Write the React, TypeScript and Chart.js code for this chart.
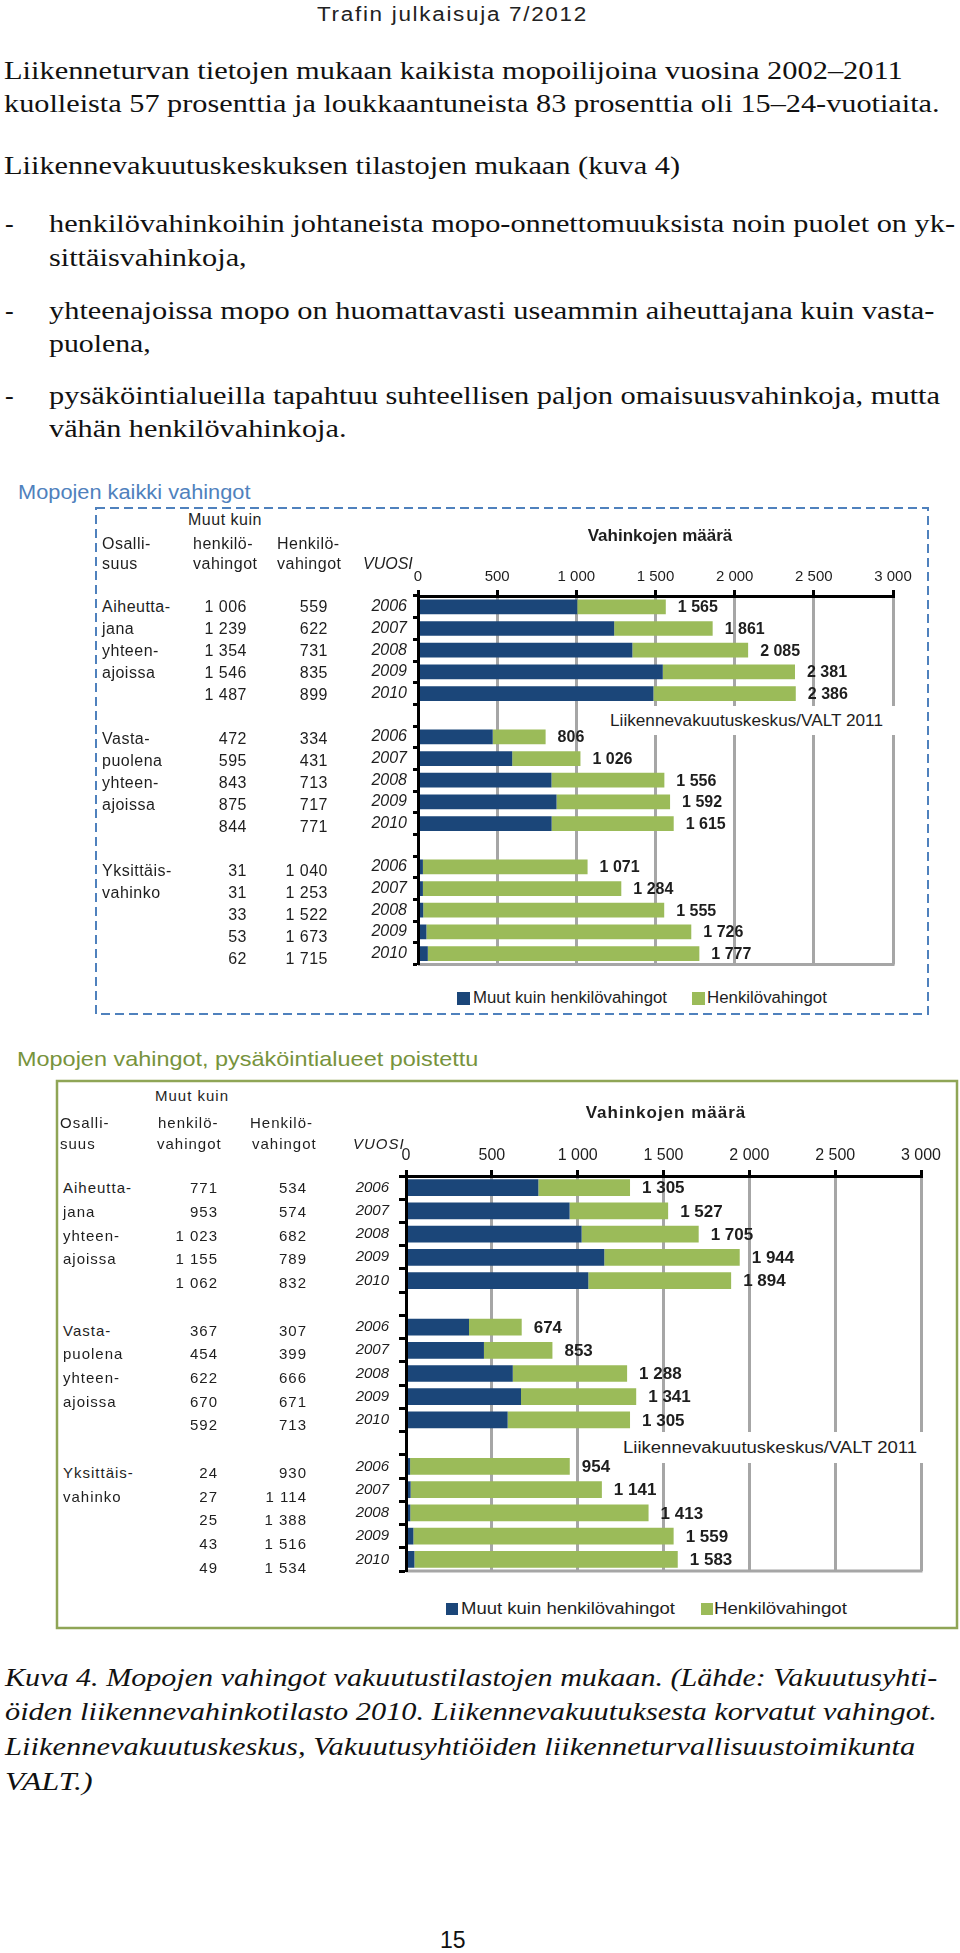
import React, { useEffect, useLayoutEffect, useRef } from 'react';
import { Chart, registerables } from 'chart.js';
Chart.register(...registerables);

// ---------- data ----------
const YEARS = ['2006', '2007', '2008', '2009', '2010'];
const GROUP_LABELS = [
  ['Aiheutta-', 'jana', 'yhteen-', 'ajoissa'],
  ['Vasta-', 'puolena', 'yhteen-', 'ajoissa'],
  ['Yksittäis-', 'vahinko'],
];
const SERIES_NAMES = ['Muut kuin henkilövahingot', 'Henkilövahingot'];
const X_MAX = 3000;
const X_STEP = 500;

// Mopojen kaikki vahingot
const all_aiheuttaja_muut = [1006, 1239, 1354, 1546, 1487];
const all_aiheuttaja_henk = [559, 622, 731, 835, 899];
const all_vasta_muut = [472, 595, 843, 875, 844];
const all_vasta_henk = [334, 431, 713, 717, 771];
const all_yks_muut = [31, 31, 33, 53, 62];
const all_yks_henk = [1040, 1253, 1522, 1673, 1715];

// Mopojen vahingot, pysäköintialueet poistettu
const np_aiheuttaja_muut = [771, 953, 1023, 1155, 1062];
const np_aiheuttaja_henk = [534, 574, 682, 789, 832];
const np_vasta_muut = [367, 454, 622, 670, 592];
const np_vasta_henk = [307, 399, 666, 671, 713];
const np_yks_muut = [24, 27, 25, 43, 49];
const np_yks_henk = [930, 1114, 1388, 1516, 1534];

// ---------- style ----------
const SANS = '"Liberation Sans", Arial, Helvetica, sans-serif';
const SERIF = '"Liberation Serif", "Times New Roman", Times, serif';
const BLUE = '#1b4679';
const GREEN = '#9bbb59';
const TXT = '#1e1e1e';

const fmt = (n: number) =>
  n >= 1000 ? `${Math.floor(n / 1000)} ${String(n % 1000).padStart(3, '0')}` : String(n);

const slots = (a: number[], b: number[], c: number[]) => [...a, null, ...b, null, ...c];
const Y_LABELS = [...YEARS, '', ...YEARS, '', ...YEARS];

// ---------- text helper ----------
function T(props: any) {
  const {
    x, cy, by, text, size, family = SANS, weight = 400, italic = false,
    color = TXT, align = 'left', fit, ls = 0,
  } = props;
  const ref = useRef<HTMLDivElement>(null);
  useLayoutEffect(() => {
    if (!fit || !ref.current) return;
    const w = ref.current.offsetWidth;
    if (w > 0) ref.current.style.transform = `scaleX(${fit / w})`;
  }, []);
  const asc = family === SERIF ? 0.8375 : 0.8465;
  const top = by != null ? by - asc * size : cy - size / 2;
  const style: any = {
    position: 'absolute', top, whiteSpace: 'nowrap', fontFamily: family, fontSize: size,
    lineHeight: `${size}px`, fontWeight: weight, fontStyle: italic ? 'italic' : 'normal',
    color, letterSpacing: ls, transformOrigin: 'left center',
  };
  if (align === 'left') style.left = x;
  else if (align === 'right') { style.right = 960 - x; style.textAlign = 'right'; }
  else { style.left = x; style.transform = 'translateX(-50%)'; }
  return <div ref={ref} style={style}>{text}</div>;
}

// ---------- chart ----------
function BarChart({ g, muut, henk }: any) {
  const ref = useRef<HTMLCanvasElement>(null);
  useEffect(() => {
    const totals = muut.map((m: any, i: number) => (m == null ? null : m + henk[i]));
    const padL = 10;
    const yW = g.left - g.cx - padL;
    const xH = g.top - g.cy;
    const totalsPlugin = {
      id: 'totals',
      afterDatasetsDraw(chart: any) {
        const ctx = chart.ctx;
        const meta = chart.getDatasetMeta(1);
        ctx.save();
        ctx.font = `bold ${g.labelSize}px ${SANS}`;
        ctx.fillStyle = TXT;
        ctx.textAlign = 'left';
        ctx.textBaseline = 'middle';
        meta.data.forEach((bar: any, i: number) => {
          const t = totals[i];
          if (t == null) return;
          ctx.fillText(fmt(t), bar.x + g.labelOff, bar.y + 1);
        });
        ctx.restore();
      },
    };
    const framePlugin = {
      id: 'frame',
      beforeDatasetsDraw(chart: any) {
        const { ctx, chartArea } = chart;
        ctx.save();
        ctx.strokeStyle = '#a6a6a6';
        ctx.lineWidth = 3;
        ctx.beginPath();
        ctx.moveTo(chartArea.left, chartArea.bottom);
        ctx.lineTo(chartArea.right + 1.5, chartArea.bottom);
        ctx.stroke();
        ctx.restore();
      },
    };
    const chart = new Chart(ref.current as HTMLCanvasElement, {
      type: 'bar',
      data: {
        labels: Y_LABELS,
        datasets: [
          { label: SERIES_NAMES[0], data: muut, backgroundColor: BLUE, barPercentage: g.barPct, categoryPercentage: 1 },
          { label: SERIES_NAMES[1], data: henk, backgroundColor: GREEN, barPercentage: g.barPct, categoryPercentage: 1 },
        ],
      },
      options: {
        indexAxis: 'y',
        animation: false,
        responsive: false,
        maintainAspectRatio: false,
        layout: {
          padding: {
            left: padL, top: 0,
            right: g.cx + g.cw - g.right,
            bottom: g.cy + g.ch - g.bottom,
          },
        },
        plugins: { legend: { display: false }, tooltip: { enabled: false }, title: { display: false } },
        scales: {
          x: {
            type: 'linear', position: 'top', stacked: true, min: 0, max: X_MAX,
            ticks: {
              stepSize: X_STEP, autoSkip: false, maxRotation: 0, padding: g.tickPad,
              callback: (v: any) => fmt(Number(v)),
              font: { family: SANS, size: g.tickSize }, color: TXT,
            },
            grid: { color: '#a6a6a6', lineWidth: 3, drawTicks: true, tickLength: 6, tickColor: '#000', tickWidth: 3 },
            border: { color: '#000', width: 3, z: 1 },
            afterFit: (s: any) => { s.height = xH; },
          },
          y: {
            type: 'category', stacked: true, offset: true,
            ticks: {
              autoSkip: false, padding: g.yearPad,
              font: { family: SANS, size: g.yearSize, style: 'italic' }, color: TXT,
            },
            grid: { drawOnChartArea: false, offset: true, drawTicks: true, tickLength: g.yTick, tickColor: '#000', tickWidth: 3, color: '#000' },
            border: { color: '#000', width: 3, z: 1 },
            afterFit: (s: any) => { s.width = yW; },
          },
        },
      } as any,
      plugins: [framePlugin, totalsPlugin],
    });
    return () => chart.destroy();
  }, []);
  return (
    <canvas
      ref={ref}
      width={g.cw}
      height={g.ch}
      style={{ position: 'absolute', left: g.cx, top: g.cy, width: g.cw, height: g.ch }}
    />
  );
}

function Table({ g, groups, t }: any) {
  const slot = (g.bottom - g.top) / 17;
  const rowY = (i: number) => g.top + slot * (i + 0.5);
  const items: any[] = [];
  groups.forEach((grp: any, k: number) => {
    GROUP_LABELS[k].forEach((lab, r) => {
      items.push(<T key={`g${k}${r}`} x={t.labX} cy={rowY(k * 6 + r)} text={lab} size={t.size} ls={t.ls} />);
    });
    grp.muut.forEach((v: number, r: number) => {
      items.push(<T key={`m${k}${r}`} x={t.c1} cy={rowY(k * 6 + r)} text={fmt(v)} size={t.size} ls={t.ls} align="right" />);
      items.push(<T key={`h${k}${r}`} x={t.c2} cy={rowY(k * 6 + r)} text={fmt(grp.henk[r])} size={t.size} ls={t.ls} align="right" />);
    });
  });
  return <>{items}</>;
}

const G1 = {
  cx: 300, cy: 540, cw: 620, ch: 440, left: 418, top: 596, right: 893, bottom: 970,
  tickSize: 15, yearSize: 16, yearPad: 6, yTick: 5, labelSize: 16, barPct: 0.68, labelOff: 12, tickPad: 4,
};
const G2 = {
  cx: 290, cy: 1120, cw: 660, ch: 470, left: 406, top: 1176, right: 921, bottom: 1579,
  tickSize: 16, yearSize: 15, yearPad: 10, yTick: 7, labelSize: 17, barPct: 0.72, labelOff: 12, tickPad: 5,
};

export default function App() {
  const groups1 = [
    { muut: all_aiheuttaja_muut, henk: all_aiheuttaja_henk },
    { muut: all_vasta_muut, henk: all_vasta_henk },
    { muut: all_yks_muut, henk: all_yks_henk },
  ];
  const groups2 = [
    { muut: np_aiheuttaja_muut, henk: np_aiheuttaja_henk },
    { muut: np_vasta_muut, henk: np_vasta_henk },
    { muut: np_yks_muut, henk: np_yks_henk },
  ];
  const body = 26;
  return (
    <div style={{ position: 'absolute', left: 0, top: 0, width: 960, height: 1953, background: '#fff', overflow: 'hidden' }}>
      <T x={317} by={21} text="Trafin julkaisuja 7/2012" size={20} ls={1.5} fit={271} color="#222" />

      <T x={4} by={80} size={body} family={SERIF} fit={899} color="#111" text="Liikenneturvan tietojen mukaan kaikista mopoilijoina vuosina 2002–2011" />
      <T x={4} by={113} size={body} family={SERIF} fit={936} color="#111" text="kuolleista 57 prosenttia ja loukkaantuneista 83 prosenttia oli 15–24-vuotiaita." />
      <T x={4} by={175} size={body} family={SERIF} fit={676} color="#111" text="Liikennevakuutuskeskuksen tilastojen mukaan (kuva 4)" />

      <T x={5} by={233} size={body} family={SERIF} color="#111" text="-" />
      <T x={49} by={233} size={body} family={SERIF} fit={906} color="#111" text="henkilövahinkoihin johtaneista mopo-onnettomuuksista noin puolet on yk-" />
      <T x={49} by={267} size={body} family={SERIF} fit={198} color="#111" text="sittäisvahinkoja," />
      <T x={5} by={320} size={body} family={SERIF} color="#111" text="-" />
      <T x={49} by={320} size={body} family={SERIF} fit={885} color="#111" text="yhteenajoissa mopo on huomattavasti useammin aiheuttajana kuin vasta-" />
      <T x={49} by={353} size={body} family={SERIF} fit={102} color="#111" text="puolena," />
      <T x={5} by={405} size={body} family={SERIF} color="#111" text="-" />
      <T x={49} by={405} size={body} family={SERIF} fit={891} color="#111" text="pysäköintialueilla tapahtuu suhteellisen paljon omaisuusvahinkoja, mutta" />
      <T x={49} by={438} size={body} family={SERIF} fit={298} color="#111" text="vähän henkilövahinkoja." />

      {/* ---- chart 1 ---- */}
      <T x={18} cy={492} size={20} fit={232} color="#4f81bd" text="Mopojen kaikki vahingot" />
      <svg style={{ position: 'absolute', left: 0, top: 0 }} width={960} height={1953}>
        <rect x={96} y={508} width={832} height={506} fill="none" stroke="#4f81bd" strokeWidth={2} strokeDasharray="9 5" />
        <rect x={57} y={1081} width={900} height={547} fill="none" stroke="#8fa556" strokeWidth={2.5} />
      </svg>
      <BarChart g={G1} muut={slots(all_aiheuttaja_muut, all_vasta_muut, all_yks_muut)} henk={slots(all_aiheuttaja_henk, all_vasta_henk, all_yks_henk)} />
      <T x={188} cy={520} size={16} ls={0.5} text="Muut kuin" />
      <T x={102} cy={544} size={16} ls={0.5} text="Osalli-" />
      <T x={193} cy={544} size={16} ls={0.5} text="henkilö-" />
      <T x={277} cy={544} size={16} ls={0.5} text="Henkilö-" />
      <T x={102} cy={564} size={16} ls={0.5} text="suus" />
      <T x={193} cy={564} size={16} ls={0.5} text="vahingot" />
      <T x={277} cy={564} size={16} ls={0.5} text="vahingot" />
      <T x={363} cy={564} size={16} italic text="VUOSI" />
      <Table g={G1} groups={groups1} t={{ labX: 102, c1: 247, c2: 328, size: 16, ls: 0.5 }} />
      <T x={660} cy={535} size={17} weight={700} align="center" text="Vahinkojen määrä" />
      <div style={{ position: 'absolute', left: 603, top: 706, width: 293, height: 29, background: '#fff' }} />
      <T x={610} cy={720} size={17} fit={273} text="Liikennevakuutuskeskus/VALT 2011" />
      <div style={{ position: 'absolute', left: 457, top: 992, width: 13, height: 13, background: BLUE }} />
      <T x={473} cy={998} size={16} fit={194} text={SERIES_NAMES[0]} />
      <div style={{ position: 'absolute', left: 692, top: 992, width: 13, height: 13, background: GREEN }} />
      <T x={707} cy={998} size={16} fit={120} text={SERIES_NAMES[1]} />

      {/* ---- chart 2 ---- */}
      <T x={17} cy={1058} size={21} fit={461} color="#77933c" text="Mopojen vahingot, pysäköintialueet poistettu" />
      <BarChart g={G2} muut={slots(np_aiheuttaja_muut, np_vasta_muut, np_yks_muut)} henk={slots(np_aiheuttaja_henk, np_vasta_henk, np_yks_henk)} />
      <T x={155} cy={1095} size={15} ls={1} text="Muut kuin" />
      <T x={60} cy={1122} size={15} ls={1} text="Osalli-" />
      <T x={158} cy={1122} size={15} ls={1} text="henkilö-" />
      <T x={250} cy={1122} size={15} ls={1} text="Henkilö-" />
      <T x={60} cy={1143} size={15} ls={1} text="suus" />
      <T x={157} cy={1143} size={15} ls={1} text="vahingot" />
      <T x={252} cy={1143} size={15} ls={1} text="vahingot" />
      <T x={353} cy={1143} size={15} ls={1} italic text="VUOSI" />
      <Table g={G2} groups={groups2} t={{ labX: 63, c1: 218, c2: 307, size: 15, ls: 1 }} />
      <T x={666} cy={1112} size={17} weight={700} ls={1} align="center" text="Vahinkojen määrä" />
      <div style={{ position: 'absolute', left: 618, top: 1432, width: 305, height: 31, background: '#fff' }} />
      <T x={623} cy={1448} size={16} fit={294} text="Liikennevakuutuskeskus/VALT 2011" />
      <div style={{ position: 'absolute', left: 446, top: 1603, width: 12, height: 12, background: BLUE }} />
      <T x={461} cy={1609} size={16} fit={214} text={SERIES_NAMES[0]} />
      <div style={{ position: 'absolute', left: 701, top: 1603, width: 12, height: 12, background: GREEN }} />
      <T x={714} cy={1609} size={16} fit={133} text={SERIES_NAMES[1]} />

      {/* ---- caption ---- */}
      <T x={5} by={1687} size={body} family={SERIF} italic fit={932} color="#111" text="Kuva 4. Mopojen vahingot vakuutustilastojen mukaan. (Lähde: Vakuutusyhti-" />
      <T x={5} by={1721} size={body} family={SERIF} italic fit={932} color="#111" text="öiden liikennevahinkotilasto 2010. Liikennevakuutuksesta korvatut vahingot." />
      <T x={5} by={1756} size={body} family={SERIF} italic fit={910} color="#111" text="Liikennevakuutuskeskus, Vakuutusyhtiöiden liikenneturvallisuustoimikunta" />
      <T x={5} by={1791} size={body} family={SERIF} italic fit={87} color="#111" text="VALT.)" />
      <T x={440} by={1948} size={23} color="#111" text="15" />
    </div>
  );
}
